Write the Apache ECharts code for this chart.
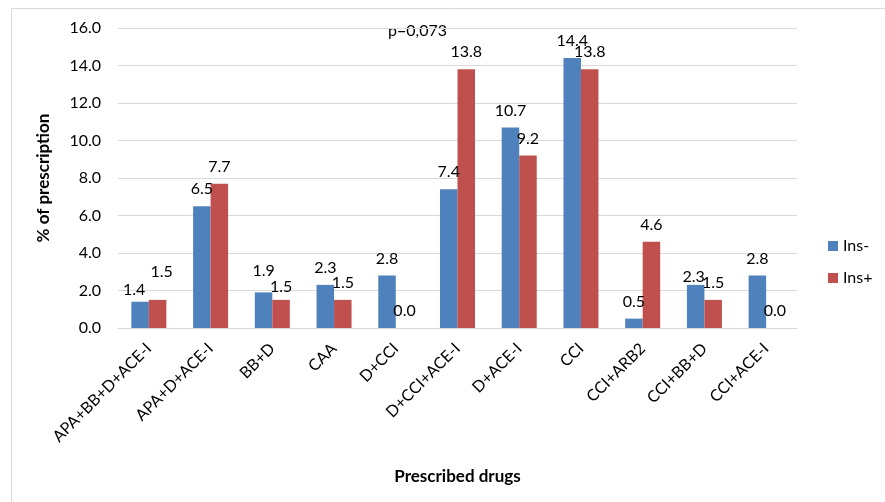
<!DOCTYPE html>
<html>
<head>
<meta charset="utf-8">
<script src="https://cdn.jsdelivr.net/npm/echarts@6/dist/echarts.min.js"></script>
<style>
  html, body { margin: 0; padding: 0; background: #fff; }
  #chart { width: 885px; height: 502px; }
</style>
</head>
<body>
<div id="chart"></div>
<script>
// Drug combinations on the category axis
const categories = [
  'APA+BB+D+ACE-I', 'APA+D+ACE-I', 'BB+D', 'CAA', 'D+CCI',
  'D+CCI+ACE-I', 'D+ACE-I', 'CCI', 'CCI+ARB2', 'CCI+BB+D', 'CCI+ACE-I'
];
// Share of prescriptions (%) per group
const insMinus = [1.4, 6.5, 1.9, 2.3, 2.8, 7.4, 10.7, 14.4, 0.5, 2.3, 2.8];
const insPlus  = [1.5, 7.7, 1.5, 1.5, 0.0, 13.8, 9.2, 13.8, 4.6, 1.5, 0.0];
const seriesNames = ['Ins-', 'Ins+'];
const pValueText = 'p=0,073';

// Hand-placed value labels that were moved apart to avoid crowding
const labelNudge = {
  '0-0': [-6, 5],
  '1-0': [4, -11],
  '0-2': [0, -5],
  '1-2': [0, 4],
  '0-9': [-2, 9]
};

const FONT = 'Lato';
const chart = echarts.init(document.getElementById('chart'));

const label = {
  show: true,
  position: 'top',
  distance: 9,
  color: '#000',
  fontFamily: FONT,
  fontSize: 16,
  formatter: p => p.value.toFixed(1)
};

function withNudges(values, seriesIndex) {
  return values.map((v, i) => {
    const off = labelNudge[seriesIndex + '-' + i];
    return off ? { value: v, label: { offset: off } } : v;
  });
}

chart.setOption({
  animation: false,
  textStyle: { fontFamily: FONT },
  graphic: [
    {
      type: 'rect',
      shape: { x: 11.5, y: 8.5, width: 900, height: 520 },
      style: { fill: 'none', stroke: '#d9d9d9', lineWidth: 1 },
      silent: true
    },
    {
      type: 'text',
      left: 388,
      top: 23,
      style: { text: pValueText, font: '16px ' + FONT, fill: '#000' }
    }
  ],
  legend: {
    orient: 'vertical',
    left: 823,
    top: 233,
    itemWidth: 10,
    itemHeight: 10,
    itemGap: 16,
    icon: 'rect',
    textStyle: { fontFamily: FONT, fontSize: 16, color: '#000' },
    data: seriesNames
  },
  grid: { left: 118, right: 88, top: 28, bottom: 174 },
  xAxis: {
    type: 'category',
    data: categories,
    name: 'Prescribed drugs',
    nameLocation: 'middle',
    nameGap: 140,
    nameTextStyle: { fontFamily: FONT, fontSize: 17, fontWeight: 'bold', color: '#000' },
    axisLine: { lineStyle: { color: '#d9d9d9' } },
    axisTick: { show: false },
    axisLabel: { rotate: 45, margin: 18, fontFamily: FONT, fontSize: 16, color: '#000', interval: 0 }
  },
  yAxis: {
    type: 'value',
    min: 0,
    max: 16,
    interval: 2,
    name: '% of prescription',
    nameLocation: 'middle',
    nameGap: 66,
    nameTextStyle: { fontFamily: FONT, fontSize: 17, fontWeight: 'bold', color: '#000' },
    axisLine: { show: false },
    axisTick: { show: false },
    axisLabel: { margin: 17, fontFamily: FONT, fontSize: 16, color: '#000', formatter: v => v.toFixed(1) },
    splitLine: { lineStyle: { color: '#d9d9d9' } }
  },
  series: [
    {
      name: seriesNames[0],
      type: 'bar',
      data: withNudges(insMinus, 0),
      barWidth: 17.5,
      barGap: '0%',
      itemStyle: { color: '#4F81BD' },
      label: label
    },
    {
      name: seriesNames[1],
      type: 'bar',
      data: withNudges(insPlus, 1),
      barWidth: 17.5,
      itemStyle: { color: '#C0504D' },
      label: label
    }
  ]
});
</script>
</body>
</html>
